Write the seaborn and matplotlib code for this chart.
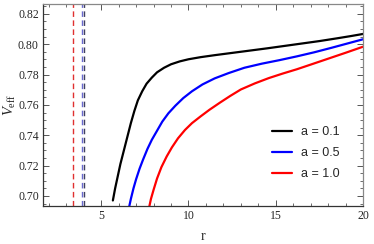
import matplotlib
matplotlib.use("Agg")
import matplotlib.pyplot as plt
from matplotlib.ticker import MultipleLocator
import seaborn as sns

# curve values
r_a01 = [5.67, 5.8, 5.95, 6.1, 6.3, 6.5, 6.7, 6.9, 7.1, 7.35, 7.6, 7.9, 8.2, 8.6, 9.0, 9.5,
         10.0, 10.7, 11.5, 12.5, 13.5, 14.5, 15.5, 16.5, 17.5, 18.5, 19.3, 20.0]
v_a01 = [0.697, 0.705, 0.713, 0.721, 0.730, 0.739, 0.748, 0.756, 0.763, 0.769, 0.774, 0.778,
         0.7815, 0.7845, 0.7868, 0.7887, 0.7901, 0.7915, 0.7928, 0.7943, 0.7958, 0.7973,
         0.7989, 0.8005, 0.8021, 0.8039, 0.8054, 0.8068]

r_a05 = [6.55, 6.7, 6.85, 7.0, 7.2, 7.4, 7.65, 7.9, 8.2, 8.5, 8.85, 9.25, 9.7, 10.2, 10.8,
         11.5, 12.3, 13.2, 14.2, 15.2, 16.2, 17.2, 18.2, 19.1, 20.0]
v_a05 = [0.690, 0.698, 0.705, 0.711, 0.718, 0.724, 0.731, 0.737, 0.743, 0.749, 0.7545,
         0.7595, 0.7645, 0.769, 0.7735, 0.7775, 0.781, 0.7845, 0.7872, 0.7895, 0.792,
         0.7947, 0.7977, 0.8005, 0.8033]

r_a10 = [7.7, 7.85, 8.0, 8.2, 8.45, 8.75, 9.05, 9.4, 9.8, 10.2, 10.7, 11.2, 11.8, 12.4,
         13.0, 13.8, 14.6, 15.4, 16.2, 17.0, 18.0, 19.0, 20.0]
v_a10 = [0.690, 0.698, 0.704, 0.7115, 0.719, 0.726, 0.732, 0.738, 0.7435, 0.748, 0.7525,
         0.7568, 0.7615, 0.766, 0.7702, 0.7742, 0.7777, 0.7807, 0.7835, 0.7866, 0.7905,
         0.7944, 0.7984]

labels = ["a = 0.1", "a = 0.5", "a = 1.0"]
colors = ["black", "#0000ff", "#ff0000"]

# vertical dashed markers
vline_r = [3.4, 3.93, 4.0]
vline_colors = ["#e03030", "#6a6ad0", "#404060"]

sns.set_style("ticks")
plt.rcParams["font.family"] = ["Liberation Serif", "DejaVu Serif"]
plt.rcParams["mathtext.fontset"] = "custom"
plt.rcParams["mathtext.it"] = "Liberation Serif:italic"
plt.rcParams["mathtext.rm"] = "Liberation Serif"

fig = plt.figure(figsize=(3.74, 2.44), dpi=100)
ax = fig.add_axes([0.115, 0.156, 0.856, 0.828])

for rv, c in zip(vline_r, vline_colors):
    ax.axvline(rv, color=c, lw=1.0, dashes=(4, 2.5))

for r, v, lab, c in zip([r_a01, r_a05, r_a10], [v_a01, v_a05, v_a10], labels, colors):
    sns.lineplot(x=r, y=v, ax=ax, color=c, lw=1.6, label=lab, sort=False, estimator=None)

ax.set_xlim(1.67, 20.0)
ax.set_ylim(0.6934, 0.8266)
ax.xaxis.set_major_locator(MultipleLocator(5))
ax.xaxis.set_minor_locator(MultipleLocator(1))
ax.yaxis.set_major_locator(MultipleLocator(0.02))
ax.yaxis.set_minor_locator(MultipleLocator(0.005))
ax.yaxis.set_major_formatter(matplotlib.ticker.FormatStrFormatter("%.2f"))
ax.tick_params(which="both", direction="in", top=True, right=True, labeltop=False, labelright=False,
               color="#555555", labelsize=8.5, pad=3)
ax.tick_params(which="major", length=4.5, width=0.7)
ax.tick_params(which="minor", length=2.3, width=0.6)
for s in ax.spines.values():
    s.set_color("#888888")
    s.set_linewidth(0.9)
ax.spines["left"].set_color("#333333")
ax.spines["bottom"].set_color("#333333")

ax.set_xlabel("r", fontsize=10, labelpad=6)
ax.set_ylabel(r"$V_{\rm eff}$", fontsize=10.5)
ax.yaxis.set_label_coords(-0.078, 0.5)

leg = ax.legend(loc="center right", bbox_to_anchor=(1.0, 0.262), frameon=False,
                prop={"family": "Liberation Sans", "size": 9}, handlelength=1.6,
                handletextpad=0.7, labelspacing=0.72, borderaxespad=1.5)

fig.savefig("out.png", dpi=100)
